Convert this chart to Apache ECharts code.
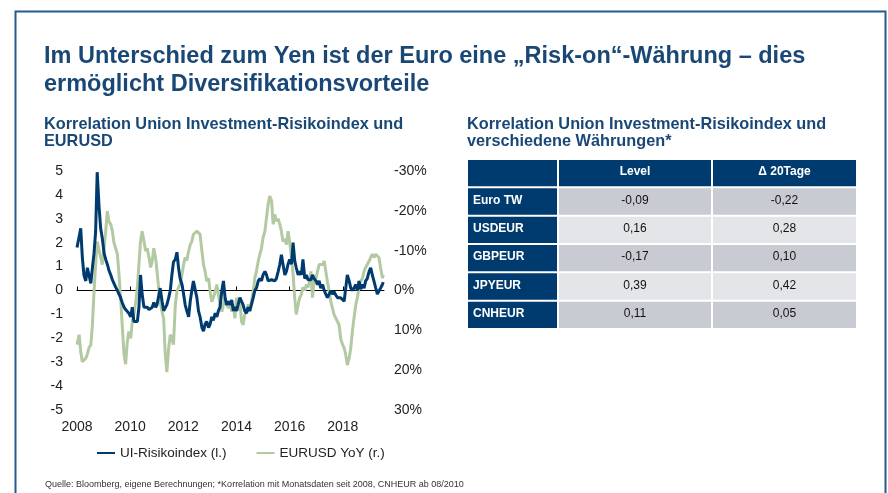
<!DOCTYPE html>
<html><head><meta charset="utf-8">
<script src="https://cdn.jsdelivr.net/npm/echarts@6/dist/echarts.min.js"></script>
<style>html,body{margin:0;padding:0;background:#fff}#c{width:888px;height:493px}</style>
</head><body><div id="c"></div><script>
// ---- data ----
const years = [
 2008.00,2008.08,2008.14,2008.20,2008.26,2008.33,2008.39,2008.45,2008.52,2008.58,2008.64,2008.70,2008.76,2008.83,2008.89,2008.95,
 2009.02,2009.08,2009.14,2009.20,2009.27,2009.33,2009.39,2009.45,2009.52,2009.58,2009.64,2009.70,2009.77,2009.83,2009.89,2009.95,
 2010.02,2010.08,2010.14,2010.21,2010.27,2010.33,2010.39,2010.45,2010.52,2010.58,2010.64,2010.71,2010.77,2010.83,2010.89,2010.96,
 2011.01,2011.07,2011.13,2011.20,2011.26,2011.32,2011.38,2011.45,2011.51,2011.57,2011.63,2011.70,2011.76,2011.82,2011.88,2011.95,
 2012.01,2012.07,2012.13,2012.20,2012.26,2012.32,2012.38,2012.45,2012.51,2012.57,2012.63,2012.70,2012.76,2012.82,2012.88,2012.95,
 2013.01,2013.07,2013.13,2013.20,2013.26,2013.32,2013.38,2013.45,2013.51,2013.57,2013.63,2013.70,2013.76,2013.82,
 2013.88,2013.94,2014.00,2014.06,2014.13,2014.19,2014.25,2014.31,2014.38,2014.44,2014.50,2014.56,2014.63,2014.69,2014.75,2014.82,2014.88,2014.94,
 2015.00,2015.07,2015.13,2015.19,2015.25,2015.32,2015.38,2015.44,2015.50,2015.57,2015.63,2015.69,2015.75,2015.82,2015.88,2015.94,
 2016.00,2016.07,2016.13,2016.19,2016.25,2016.32,2016.38,2016.44,2016.50,2016.57,2016.63,2016.69,2016.75,
 2016.80,2016.86,2016.92,2016.99,2017.05,2017.11,2017.17,2017.24,2017.30,2017.36,2017.42,2017.49,2017.55,2017.61,2017.67,2017.74,2017.80,2017.86,2017.92,2017.99,
 2018.05,2018.11,2018.17,2018.24,2018.30,2018.36,2018.42,2018.49,2018.55,2018.61,2018.67,2018.74,2018.80,2018.86,2018.92,2018.99,
 2019.05,2019.11,2019.17,2019.24,2019.30,2019.36,2019.42,2019.49,2019.52
];
const uiIndex = [
 1.8,2.25,2.6,1.4,0.65,0.4,0.95,0.65,0.3,0.95,1.55,2.45,4.95,3.5,2.6,2.2,1.55,1.3,1.1,0.85,0.65,0.45,0.3,0.15,0,-0.15,-0.3,-0.5,-0.7,-0.8,-0.85,-0.95,-1.1,-0.7,-1.3,-1.25,-1.3,-0.7,0.65,-0.15,-0.7,-0.75,-0.7,-0.8,-0.85,-0.7,-0.5,-0.7,
 -0.6,-0.6,0.1,-0.45,-0.85,-0.85,-0.6,-0.3,0,0.65,1.2,1.3,1.6,0.95,0.5,0.25,-0.15,-0.6,-0.85,-1.1,-0.45,0,0.4,0.35,-0.3,-0.85,-1.1,-1.55,-1.7,-1.4,-1.3,-1.55,-1.4,-1.1,-1.25,-0.95,-1.1,-0.85,-0.7,0,0.4,-0.3,-0.6,-0.45,-0.6,-0.4,
 -0.85,-0.7,-0.85,-0.6,-0.3,-0.45,-0.6,-0.85,-0.95,-0.7,-0.85,-0.6,-0.3,0,0.1,0.4,0.5,0.4,0.65,0.8,0.65,0.4,0.4,0.45,0.5,0.4,0.5,0.8,1.1,1.5,1.1,0.65,0.8,1.1,1.3,1.1,2.0,1.25,0.95,0.65,0.8,0.65,1.3,0.5,0.65,0.45,0.4,
 0.45,0.65,0.5,0.4,0.25,0.4,0.1,0.25,0,-0.15,-0.3,-0.15,0,-0.15,-0.05,-0.2,-0.3,-0.25,-0.3,-0.35,-0.45,0.1,0.65,0.4,0.1,0,0.1,0.25,0,0.4,0.05,0.25,0.1,0.4,0.5,0.8,0.95,0.65,0.4,0.1,-0.15,-0.2,0.1,0.25,0.35
];
const eurusdYoY = [
 13.6,11.1,15.4,17.9,17.5,17,16,14.4,13.6,8.6,0.3,-6.5,-12.3,-12,-8.3,-6.5,-10.6,-14.9,-19.9,-17.4,-16.6,-14.9,-12,-12,-9.1,-4,1.8,8.6,16.1,18.5,13,10.3,12,7.8,6,2.8,-0.8,-6.5,-12.3,-14.9,-12.3,-9.9,-10.6,-8.3,-5.8,-7.4,-10.6,-8,
 -4.8,-0.8,2.8,5.3,7,16,20.5,14.4,11.1,12,13.6,3.5,0.3,-0.8,-1.5,-4,-6.5,-8.3,-7.5,-9.9,-11.5,-12.3,-14.1,-14.1,-14.9,-15.4,-14.1,-9.9,-6.5,-4.8,-2.3,-3.1,0.3,2.8,1.8,0.3,-1.5,1.0,3.5,5.3,3.5,1.8,3.5,4.4,2.8,5.3,
 3.5,7,1.8,5,3,7.8,8.6,6,5.3,3.5,5.3,2.8,0.3,-3.1,-4.8,-7.4,-9.1,-10.6,-13.3,-14.9,-18.3,-21.6,-23.7,-22.5,-16.6,-19.1,-17.4,-18,-16.6,-14.9,-12.3,-13,-11.5,-14.9,-12.3,-8.3,-4,1.8,6,3.5,1.8,1.0,-0.8,0,-1.5,-0.8,-2.3,
 -4.8,1.8,-2.3,-3.1,-4.8,-6.5,-6,-6.5,-7.4,-4.8,-2.3,0.3,2.8,4.4,6,7,7.8,8.6,12,13.6,14.4,16.1,18.7,17,14.4,10.3,7,3.5,1.8,-0.8,-2.3,-3.1,-4.8,-5.8,-6.5,-7.4,-8.3,-9.1,-8.3,-9.1,-9.5,-8.3,-5.8,-3.1,-4
];
const yearTicks = [2008, 2010, 2012, 2014, 2016, 2018];
const leftTicks = [-5, 5, 1];      // min, max, step
const rightTicks = [-30, 30, 10];  // min, max, step (percent)
const seriesNames = ['UI-Risikoindex (l.)', 'EURUSD YoY (r.)'];

const headers = ['', 'Level', 'Δ 20Tage'];
const rowNames = ['Euro TW', 'USDEUR', 'GBPEUR', 'JPYEUR', 'CNHEUR'];
const levels = [-0.09, 0.16, -0.17, 0.39, 0.11];
const delta20 = [-0.22, 0.28, 0.10, 0.42, 0.05];

// ---- layout / style constants ----
const FONT = 'Liberation Sans, Arial, sans-serif';
const NAVY = '#003b6f';
const GREEN = '#b2c9a2';
const TITLE_C = '#1a4876';
const colWidths = [91, 154, 145];
const colStarts = colWidths.map((w, i) => colWidths.slice(0, i).reduce((a, b) => a + b, 0));
const tableW = colWidths.reduce((a, b) => a + b, 0);

const fmt = v => v.toFixed(2).replace('.', ',');
const cells = [];
headers.forEach((h, c) => cells.push([c, 0, h]));
rowNames.forEach((n, r) => {
  cells.push([0, r + 1, n]);
  cells.push([1, r + 1, fmt(levels[r])]);
  cells.push([2, r + 1, fmt(delta20[r])]);
});

const chart = echarts.init(document.getElementById('c'), null, {renderer: 'canvas'});
chart.setOption({
  animation: false,
  textStyle: {fontFamily: FONT},
  title: [
    {text: 'Im Unterschied zum Yen ist der Euro eine „Risk-on“-Währung – dies\nermöglicht Diversifikationsvorteile',
     left: 44, top: 43, padding: 0,
     textStyle: {fontFamily: FONT, fontSize: 23.5, fontWeight: 'bold', color: TITLE_C, lineHeight: 28}},
    {text: 'Korrelation Union Investment-Risikoindex und\nEURUSD',
     left: 44, top: 116.5, padding: 0,
     textStyle: {fontFamily: FONT, fontSize: 16.3, fontWeight: 'bold', color: TITLE_C, lineHeight: 17}},
    {text: 'Korrelation Union Investment-Risikoindex und\nverschiedene Währungen*',
     left: 467, top: 116.5, padding: 0,
     textStyle: {fontFamily: FONT, fontSize: 16.3, fontWeight: 'bold', color: TITLE_C, lineHeight: 17}},
    {text: 'Quelle: Bloomberg, eigene Berechnungen; *Korrelation mit Monatsdaten seit 2008, CNHEUR ab 08/2010',
     left: 45, top: 480, padding: 0,
     textStyle: {fontFamily: FONT, fontSize: 9, fontWeight: 'normal', color: '#333'}}
  ],
  graphic: [{type: 'rect', silent: true, z: -10,
    shape: {x: 15.5, y: 11.5, width: 870, height: 520},
    style: {fill: 'none', stroke: '#245a8e', lineWidth: 2}}],
  legend: {
    left: 97, top: 446, padding: 0, itemGap: 30,
    icon: 'rect', itemWidth: 18, itemHeight: 2,
    textStyle: {fontFamily: FONT, fontSize: 13.5, color: '#222'},
    data: seriesNames
  },
  grid: [
    {left: 77, top: 171, width: 307, height: 239},
    {left: 467, top: 159, width: tableW, height: 170}
  ],
  xAxis: [
    {gridIndex: 0, type: 'value', min: 2008, max: 2019.55,
     axisLine: {show: false, onZero: false}, axisTick: {show: false}, splitLine: {show: false},
     axisLabel: {customValues: yearTicks, formatter: v => String(v), fontSize: 14, color: '#222', margin: 10, fontFamily: FONT}},
    {gridIndex: 0, type: 'value', min: 2008, max: 2019.55,
     axisLine: {show: true, onZero: true, onZeroAxisIndex: 0, lineStyle: {color: '#000', width: 1}},
     axisTick: {show: true, customValues: yearTicks, length: 4, lineStyle: {color: '#000'}},
     axisLabel: {show: false}, splitLine: {show: false}},
    {gridIndex: 1, type: 'value', min: 0, max: tableW, show: false}
  ],
  yAxis: [
    {gridIndex: 0, type: 'value', min: leftTicks[0], max: leftTicks[1], interval: leftTicks[2],
     axisLine: {show: false}, axisTick: {show: false}, splitLine: {show: false},
     axisLabel: {fontSize: 14, color: '#222', margin: 14, fontFamily: FONT}},
    {gridIndex: 0, type: 'value', min: rightTicks[0], max: rightTicks[1], interval: rightTicks[2], inverse: true,
     position: 'right',
     axisLine: {show: false}, axisTick: {show: false}, splitLine: {show: false},
     axisLabel: {fontSize: 14, color: '#222', margin: 10, formatter: '{value}%', fontFamily: FONT}},
    {gridIndex: 1, type: 'category', data: [0, 1, 2, 3, 4, 5], inverse: true, show: false}
  ],
  series: [
    {name: seriesNames[0], type: 'line', xAxisIndex: 0, yAxisIndex: 0, showSymbol: false, z: 3,
     color: NAVY, lineStyle: {color: NAVY, width: 3},
     data: years.map((y, i) => [y, uiIndex[i]])},
    {name: seriesNames[1], type: 'line', xAxisIndex: 0, yAxisIndex: 1, showSymbol: false, z: 2,
     color: GREEN, lineStyle: {color: GREEN, width: 3},
     data: years.map((y, i) => [y, eurusdYoY[i]])},
    {type: 'custom', xAxisIndex: 2, yAxisIndex: 2, silent: true,
     data: cells,
     renderItem: function (params, api) {
       const c = api.value(0), r = api.value(1);
       const text = cells[params.dataIndex][2];
       const p0 = api.coord([colStarts[c], r]);
       const p1 = api.coord([colStarts[c] + colWidths[c], r]);
       const h = api.size([0, 1])[1];
       const x0 = p0[0] + 1, x1 = p1[0] - 1, yc = p0[1];
       const dark = (r === 0 || c === 0);
       const fill = dark ? NAVY : (r % 2 === 1 ? '#c9cbd2' : '#e4e5e9');
       const isLabel = (c === 0);
       return {type: 'group', children: [
         {type: 'rect', shape: {x: x0, y: yc - h / 2 + 1, width: x1 - x0, height: h - 2}, style: {fill: fill}},
         {type: 'text', style: {
           text: text, x: isLabel ? x0 + 5 : (x0 + x1) / 2, y: yc - 1,
           align: isLabel ? 'left' : 'center', verticalAlign: 'middle',
           fill: dark ? '#fff' : '#111',
           font: (dark ? 'bold ' : '') + '12px ' + FONT}}
       ]};
     }}
  ]
});
</script></body></html>
